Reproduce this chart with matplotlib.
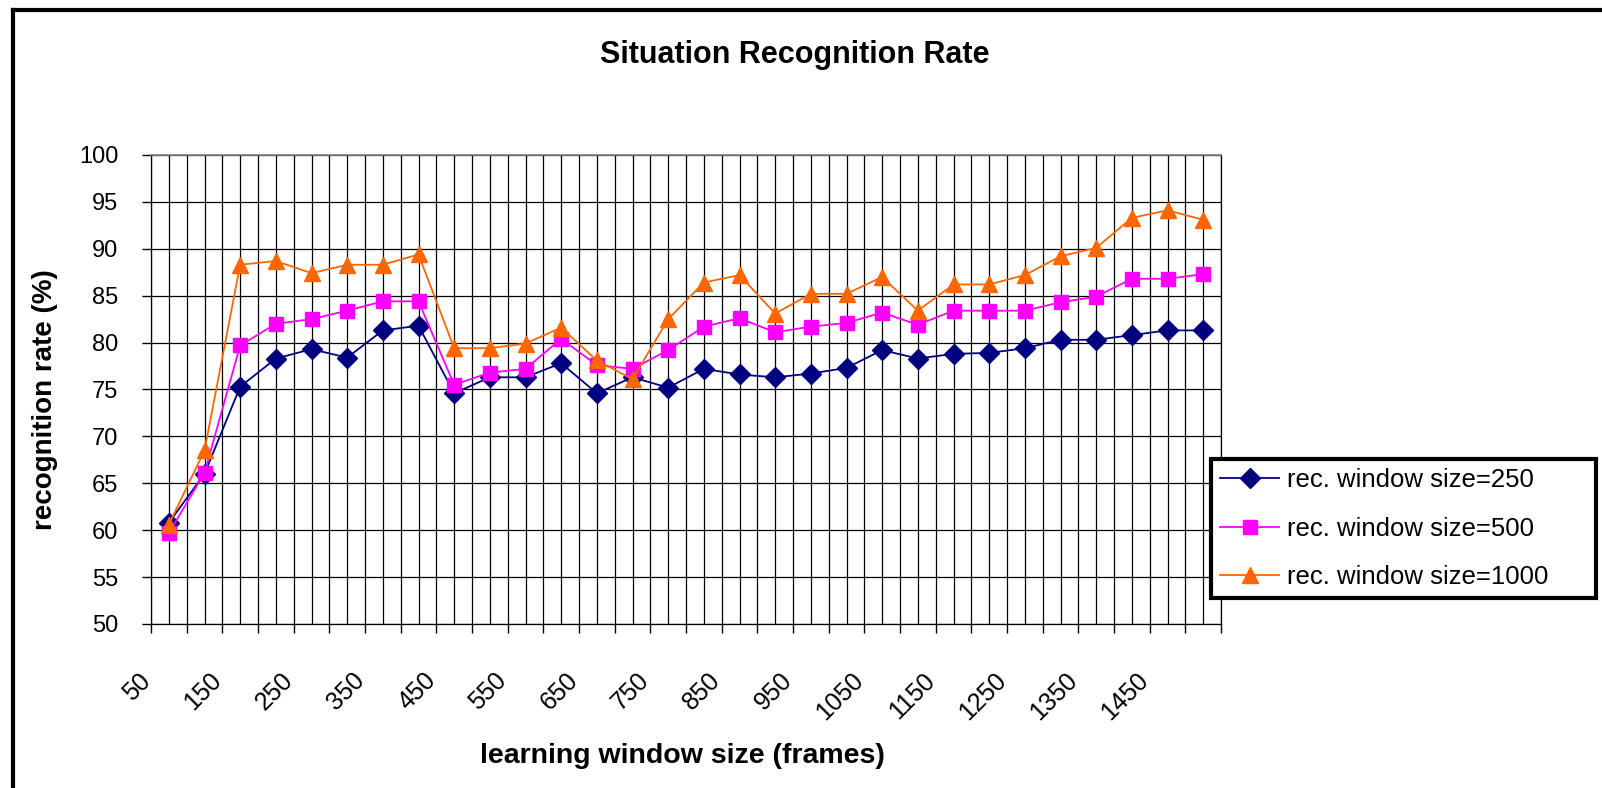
import numpy as np
import matplotlib
matplotlib.use('Agg')
import matplotlib.pyplot as plt
from matplotlib.lines import Line2D
from matplotlib.transforms import ScaledTranslation

plt.rcParams['font.family'] = ['Liberation Sans', 'DejaVu Sans']

# learning window sizes (frames), one category each
window_sizes = [50, 100, 150, 200, 250, 300, 350, 400, 450, 500,
                550, 600, 650, 700, 750, 800, 850, 900, 950, 1000,
                1050, 1100, 1150, 1200, 1250, 1300, 1350, 1400, 1450, 1500]

# recognition rate (%) for each recognition window size
rate_250 = [60.8, 66.0, 75.3, 78.3, 79.3, 78.4, 81.3, 81.8, 74.6, 76.3,
            76.3, 77.8, 74.6, 76.3, 75.2, 77.2, 76.6, 76.3, 76.7, 77.3,
            79.2, 78.3, 78.8, 78.9, 79.4, 80.3, 80.3, 80.8, 81.3, 81.3]
rate_500 = [59.7, 66.1, 79.7, 82.0, 82.5, 83.4, 84.4, 84.4, 75.5, 76.8,
            77.2, 80.4, 77.6, 77.2, 79.2, 81.7, 82.6, 81.1, 81.7, 82.1,
            83.2, 81.9, 83.4, 83.4, 83.4, 84.3, 84.9, 86.8, 86.8, 87.3]
rate_1000 = [60.6, 68.5, 88.3, 88.7, 87.4, 88.3, 88.3, 89.4, 79.4, 79.4,
             79.9, 81.6, 78.1, 76.1, 82.5, 86.4, 87.2, 83.1, 85.2, 85.2,
             87.0, 83.4, 86.2, 86.2, 87.2, 89.2, 90.1, 93.3, 94.1, 93.1]

series_labels = ['rec. window size=250', 'rec. window size=500',
                 'rec. window size=1000']

W, H = 1602, 788
fig = plt.figure(figsize=(W / 100, H / 100), dpi=100)
ax = fig.add_axes([151 / W, 1 - 624 / H, (1221 - 151) / W, (624 - 155) / H])

x = np.arange(len(window_sizes))
ax.plot(x, rate_250, color='#000080', lw=1.3, marker='D', ms=10,
        label=series_labels[0])
ax.plot(x, rate_500, color='#FF00FF', lw=1.3, marker='s', ms=10.5,
        label=series_labels[1])
ax.plot(x, rate_1000, color='#FF6600', lw=1.3, marker='^', ms=12,
        label=series_labels[2])

ax.set_xlim(-0.5, len(x) - 0.5)
ax.set_ylim(50, 100)
ax.set_yticks(np.arange(50, 101, 5))

# tick marks on category boundaries, labels on every other category
ax.set_xticks(np.arange(-0.5, len(x), 1.0))
ax.set_xticklabels([])
ax.set_xticks(x, minor=True)
ax.set_xticklabels([str(s) if i % 2 == 0 else '' for i, s in enumerate(window_sizes)],
                   minor=True)

ax.tick_params(axis='x', which='major', length=6.5, width=1, direction='out')
ax.tick_params(axis='x', which='minor', length=0, pad=32, labelsize=18)
ax.tick_params(axis='y', length=6.5, width=1, direction='out', pad=17, labelsize=17)

offset = ScaledTranslation(-0.31, 0, fig.dpi_scale_trans)
for lab in ax.get_xticklabels(minor=True):
    lab.set_rotation(45)
    lab.set_ha('right')
    lab.set_va('top')
    lab.set_rotation_mode('anchor')
    lab.set_transform(lab.get_transform() + offset)

ax.grid(True, which='both', axis='x', color='black', lw=0.9)
ax.grid(True, which='major', axis='y', color='black', lw=0.9)
ax.set_axisbelow(True)
for side in ['left', 'bottom', 'right']:
    ax.spines[side].set_color('black')
    ax.spines[side].set_linewidth(0.9)
ax.spines['top'].set_color('#808080')
ax.spines['top'].set_linewidth(1.2)

fig.text(795 / W, 1 - 55 / H, 'Situation Recognition Rate', ha='center', va='center',
         fontsize=22, fontweight='bold')
fig.text(45 / W, 1 - 400 / H, 'recognition rate (%)', rotation=90, ha='center',
         va='center', fontsize=20, fontweight='bold')
fig.text(682 / W, 1 - 756 / H, 'learning window size (frames)', ha='center',
         va='center', fontsize=20.5, fontweight='bold')

leg = ax.legend(loc='lower left', bbox_to_anchor=(1211 / W, 1 - 598 / H, 385 / W, 141 / H),
                bbox_transform=fig.transFigure, mode='expand', borderaxespad=0,
                fontsize=18.5, numpoints=1, handlelength=2.3, handletextpad=0.3,
                labelspacing=0.95, borderpad=0.35, fancybox=False, framealpha=1)
leg.get_frame().set_edgecolor('black')
leg.get_frame().set_linewidth(3)

# outer chart frame (top and left edges)
fig.add_artist(Line2D([13 / W, 13 / W], [0, 1 - 9.5 / H], transform=fig.transFigure,
                      color='black', lw=3))
fig.add_artist(Line2D([13 / W, 1], [1 - 9.5 / H, 1 - 9.5 / H], transform=fig.transFigure,
                      color='black', lw=3))

fig.savefig('out.png', dpi=100)
